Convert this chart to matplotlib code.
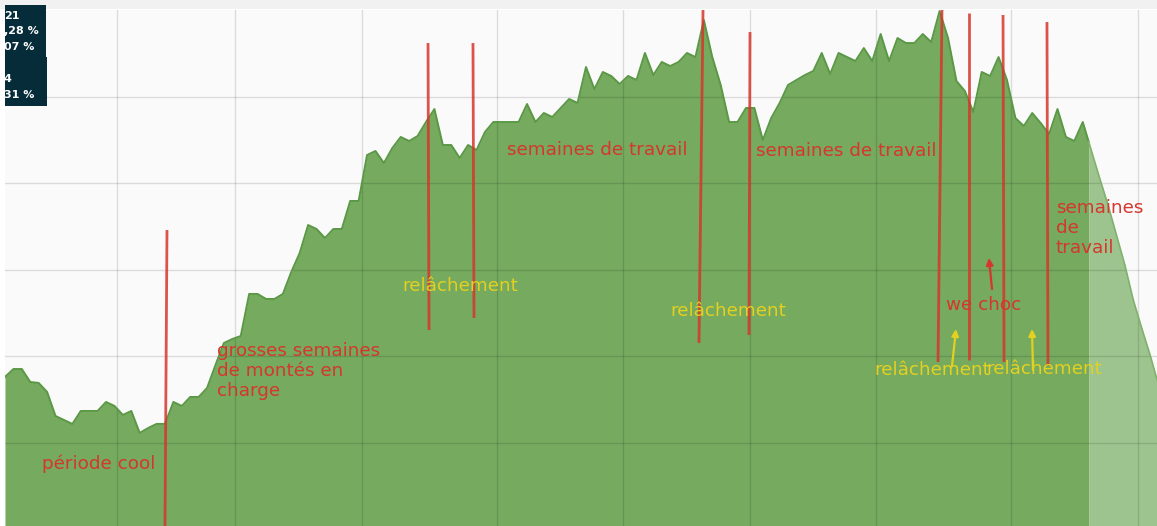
import numpy as np
import matplotlib.pyplot as plt
from matplotlib.patches import Rectangle

# series values (one point per day)
load = [17.63, 18.55, 18.55, 17.05, 16.94, 15.90, 13.12, 12.66, 12.20, 13.70,
        13.70, 13.70, 14.74, 14.28, 13.24, 13.70, 11.16, 11.73, 12.20, 12.20,
        14.74, 14.28, 15.32, 15.32, 16.36, 19.02, 21.56, 22.02, 22.37, 27.23,
        27.23, 26.65, 26.65, 27.23, 29.77, 31.97, 35.20, 34.74, 33.70, 34.74,
        34.74, 37.98, 37.98, 43.29, 43.76, 42.37, 44.10, 45.38, 44.91, 45.49,
        47.11, 48.61, 44.45, 44.45, 42.95, 44.45, 43.87, 45.95, 47.11, 47.11,
        47.11, 47.11, 49.19, 47.11, 48.15, 47.69, 48.73, 49.77, 49.31, 53.47,
        50.92, 52.89, 52.43, 51.50, 52.43, 51.97, 55.09, 52.54, 54.05, 53.58,
        54.05, 55.09, 54.62, 58.90, 54.62, 51.39, 47.11, 47.11, 48.73, 48.73,
        45.03, 47.57, 49.31, 51.39, 51.97, 52.54, 53.01, 55.09, 52.66, 55.09,
        54.62, 54.16, 55.66, 54.16, 57.28, 54.16, 56.82, 56.24, 56.24, 57.28,
        56.36, 59.94, 56.82, 51.85, 50.69, 48.27, 52.89, 52.43, 54.62, 51.97,
        47.57, 46.65, 48.15, 46.99, 45.72, 48.61, 45.38, 44.91, 47.11]
forecast = [43.87, 40.64, 37.51, 34.05, 30.58, 26.53, 23.29, 20.17, 16.71]
split = 128.7

vgrid = [13.3, 27.3, 42.4, 58.4, 73.4, 88.5, 103.4, 119.5, 134.6]
hgrid = [10, 20, 30, 40, 50]

# annotations: (x_top, y_top, x_bottom, y_bottom)
red_lines = [(19.24, 34.62, 19.0, 0.4), (50.24, 56.24, 50.36, 23.06),
             (55.58, 56.24, 55.70, 24.45), (82.90, 60.06, 82.42, 21.56),
             (88.48, 57.51, 88.36, 22.49), (111.28, 60.06, 110.81, 19.36),
             (114.49, 59.71, 114.49, 19.60), (118.53, 59.48, 118.65, 19.36),
             (123.75, 58.67, 123.87, 18.90)]
red_texts = [("période cool", 4.39, 7.57),
             ("grosses semaines\nde montés en\ncharge", 25.18, 18.32),
             ("semaines de travail", 59.62, 43.87),
             ("semaines de travail", 89.19, 43.76),
             ("semaines\nde\ntravail", 124.82, 34.86),
             ("we choc", 111.76, 25.95)]
yellow_texts = [("relâchement", 47.15, 28.15), ("relâchement", 78.98, 25.26),
                ("relâchement", 103.21, 18.44), ("relâchement", 116.51, 18.55)]
red_arrows = [((117.22, 27.80), (116.86, 31.39))]
yellow_arrows = [((112.47, 18.90), (112.95, 23.18)),
                 ((122.09, 18.44), (121.97, 23.18))]

RED = '#d6362c'
YEL = '#e4d020'

W, H = 1157, 526
fig = plt.figure(figsize=(W / 100, H / 100), dpi=100, facecolor='white')
ax = fig.add_axes([5 / W, 0, 1152 / W, 516 / H])
ax.set_facecolor('#fafafa')

x = np.arange(len(load))
xf = np.arange(len(load) - 1, len(load) + len(forecast))
xall = np.concatenate([x, xf[1:]])
yall = np.concatenate([load, forecast])
ysplit = np.interp(split, xall, yall)

xd = np.concatenate([x, [split]])
yd = np.concatenate([load, [ysplit]])
xl = np.concatenate([[split], xall[xall > split]])
yl = np.concatenate([[ysplit], yall[xall > split]])

ax.fill_between(xd, 0, yd, color='#75aa5f', lw=0, zorder=2)
ax.fill_between(xl, 0, yl, color='#9dc48e', lw=0, zorder=2)
ax.plot(xd, yd, color='#5a9845', lw=1.4, zorder=3)
ax.plot(xl, yl, color='#80b26c', lw=1.2, zorder=3)

for g in vgrid:
    ax.axvline(g, color='black', alpha=0.12, lw=1, zorder=2.5)
for g in hgrid:
    ax.axhline(g, color='black', alpha=0.12, lw=1, zorder=2.5)

ax.set_xlim(0, 1152 / 8.42)
ax.set_ylim(0.4, 60.06)
ax.set_xticks([])
ax.set_yticks([])
for s in ax.spines.values():
    s.set_visible(False)

for x0, y0, x1, y1 in red_lines:
    ax.plot([x0, x1], [y0, y1], color=RED, lw=2, alpha=0.85, zorder=5,
            solid_capstyle='butt', clip_on=False)

for t, tx, ty in red_texts:
    ax.text(tx, ty, t, color=RED, fontsize=13.25, ha='left', va='center',
            linespacing=1.15, zorder=6)
for t, tx, ty in yellow_texts:
    ax.text(tx, ty, t, color=YEL, fontsize=13.25, ha='left', va='center',
            zorder=6)

for (a, b) in red_arrows:
    ax.annotate('', xy=b, xytext=a, zorder=6,
                arrowprops=dict(arrowstyle='-|>', color=RED, lw=1.6,
                                mutation_scale=10, shrinkA=0, shrinkB=0))
for (a, b) in yellow_arrows:
    ax.annotate('', xy=b, xytext=a, zorder=6,
                arrowprops=dict(arrowstyle='-|>', color=YEL, lw=1.6,
                                mutation_scale=10, shrinkA=0, shrinkB=0))

# top strip and clipped tooltip boxes
def fx(p):
    return p / W

def fy(p):
    return 1 - p / H

fig.add_artist(Rectangle((0, fy(9)), 1, 9 / H, color='#f1f1f1', lw=0,
                         transform=fig.transFigure, zorder=0))
fig.add_artist(Rectangle((fx(5), fy(57)), fx(41), 52 / H, color='#062c39',
                         lw=0, transform=fig.transFigure, zorder=10))
fig.add_artist(Rectangle((fx(5), fy(106)), fx(42), 49 / H, color='#062c39',
                         lw=0, transform=fig.transFigure, zorder=10))
tip_lines = [("21", 16), (",28 %", 31), ("07 %", 47), ("4", 79), ("31 %", 95)]
for t, py in tip_lines:
    fig.text(fx(4), fy(py), t, color='white', fontsize=8, fontweight='bold',
             ha='left', va='center', zorder=11)

fig.savefig('out.png', dpi=100, facecolor='white')
